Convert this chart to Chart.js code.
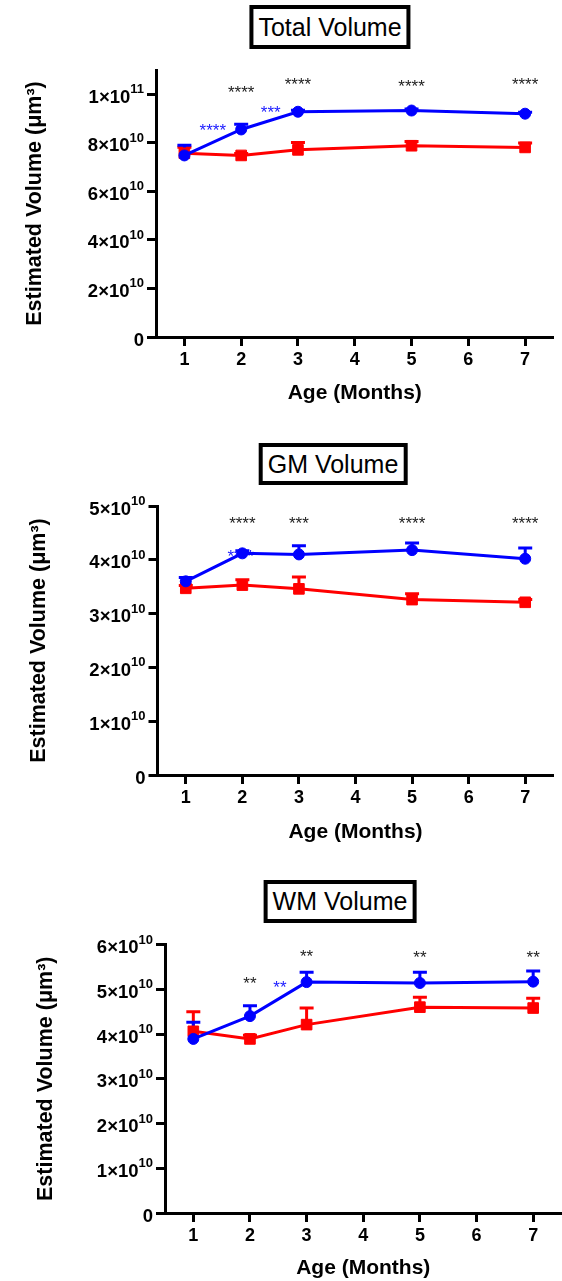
<!DOCTYPE html>
<html><head><meta charset="utf-8">
<script src="https://cdn.jsdelivr.net/npm/chart.js@4.4.1/dist/chart.umd.min.js"></script>
<style>
html,body{margin:0;padding:0;background:#fff;overflow:hidden;width:562px;height:1281px;position:relative;}
canvas{position:absolute;left:0;}
.ttl{position:absolute;border:4px solid #000;font-family:"Liberation Sans",Arial,sans-serif;font-size:25px;padding:0 5px;white-space:nowrap;transform:translateX(-50%);box-sizing:border-box;background:#fff;color:#000;text-align:center;}
</style></head><body>
<div class="ttl" style="left:330px;top:5px;height:44px;line-height:36px;">Total Volume</div>
<div class="ttl" style="left:333px;top:443px;height:42px;line-height:34px;">GM Volume</div>
<div class="ttl" style="left:340px;top:880px;height:43px;line-height:35px;">WM Volume</div>
<canvas id="c1" width="562" height="420" style="top:0px"></canvas>
<canvas id="c2" width="562" height="430" style="top:430px"></canvas>
<canvas id="c3" width="570" height="421" style="top:860px"></canvas>
<script>
// ---- data ----
const ages = [1, 2, 3, 5, 7];
const xTicks = [1, 2, 3, 4, 5, 6, 7];
const starAges = [2, 3, 5, 7];

// Total volume
const totalBlue    = [7.48e10, 8.55e10, 9.28e10, 9.33e10, 9.20e10];
const totalBlueErr = [0.42e10, 0.22e10, 0.06e10, 0.06e10, 0.06e10];
const totalRed     = [7.57e10, 7.48e10, 7.71e10, 7.88e10, 7.81e10];
const totalRedErr  = [0.25e10, 0.08e10, 0.30e10, 0.17e10, 0.18e10];
const totalYTicks  = [0, 2e10, 4e10, 6e10, 8e10, 1e11];
const totalYLabels = ["0", "2×10^10", "4×10^10", "6×10^10", "8×10^10", "1×10^11"];
const totalStarY   = [1.02e11, 1.054e11, 1.045e11, 1.054e11];
const totalStarTxt = ["****", "****", "****", "****"];
const totalInX     = [1.5, 2.52];
const totalInY     = [8.65e10, 9.38e10];
const totalInTxt   = ["****", "***"];

// GM volume
const gmBlue    = [3.60e10, 4.12e10, 4.10e10, 4.18e10, 4.02e10];
const gmBlueErr = [0.07e10, 0.05e10, 0.16e10, 0.13e10, 0.20e10];
const gmRed     = [3.47e10, 3.53e10, 3.46e10, 3.26e10, 3.21e10];
const gmRedErr  = [0.05e10, 0.10e10, 0.22e10, 0.11e10, 0.05e10];
const gmYTicks  = [0, 1e10, 2e10, 3e10, 4e10, 5e10];
const gmYLabels = ["0", "1×10^10", "2×10^10", "3×10^10", "4×10^10", "5×10^10"];
const gmStarY   = [4.73e10, 4.73e10, 4.73e10, 4.73e10];
const gmStarTxt = ["****", "***", "****", "****"];
const gmInX     = [1.97];
const gmInY     = [4.12e10];
const gmInTxt   = ["****"];

// WM volume
const wmBlue    = [3.89e10, 4.40e10, 5.16e10, 5.14e10, 5.17e10];
const wmBlueErr = [0.37e10, 0.23e10, 0.22e10, 0.24e10, 0.24e10];
const wmRed     = [4.06e10, 3.89e10, 4.21e10, 4.60e10, 4.58e10];
const wmRedErr  = [0.44e10, 0.08e10, 0.37e10, 0.22e10, 0.22e10];
const wmYTicks  = [0, 1e10, 2e10, 3e10, 4e10, 5e10, 6e10];
const wmYLabels = ["0", "1×10^10", "2×10^10", "3×10^10", "4×10^10", "5×10^10", "6×10^10"];
const wmStarY   = [5.21e10, 5.80e10, 5.79e10, 5.79e10];
const wmStarTxt = ["**", "**", "**", "**"];
const wmInX     = [2.53];
const wmInY     = [5.10e10];
const wmInTxt   = ["**"];

// ---- drawing ----
const FONT = '"Liberation Sans", Arial, Helvetica, sans-serif';
const BLUE = '#0000ff', RED = '#ff0000';

const errorBars = {
  id: 'errorBars',
  beforeDatasetsDraw(chart) {
    const { ctx, scales: { x, y } } = chart;
    const dss = chart.data.datasets;
    for (let i = dss.length - 1; i >= 0; i--) {
      const ds = dss[i];
      if (!ds.errUp) continue;
      ctx.save();
      ctx.strokeStyle = ds.borderColor;
      ctx.lineWidth = 3;
      ds.data.forEach((p, j) => {
        const px = x.getPixelForValue(p.x);
        const py = y.getPixelForValue(p.y);
        const pt = y.getPixelForValue(p.y + ds.errUp[j]);
        ctx.beginPath();
        ctx.moveTo(px, py); ctx.lineTo(px, pt);
        ctx.moveTo(px - 7, pt); ctx.lineTo(px + 7, pt);
        ctx.stroke();
      });
      ctx.restore();
    }
  }
};

function starPlugin(groups) {
  return {
    id: 'stars',
    beforeDatasetsDraw(chart) {
      const { ctx, scales: { x, y } } = chart;
      ctx.save();
      ctx.font = '17px ' + FONT;
      ctx.textAlign = 'center';
      ctx.textBaseline = 'middle';
      groups.forEach(g => {
        ctx.fillStyle = g.color;
        g.x.forEach((xv, i) => {
          ctx.fillText(g.text[i], x.getPixelForValue(xv), y.getPixelForValue(g.y[i]) + 4);
        });
      });
      ctx.restore();
    }
  };
}

function yLabelPlugin(vals, labels) {
  return {
    id: 'yLabels',
    afterDraw(chart) {
      const { ctx, scales: { y } } = chart;
      const right = y.right - 12;
      ctx.save();
      ctx.fillStyle = '#000';
      ctx.textAlign = 'right';
      ctx.textBaseline = 'alphabetic';
      vals.forEach((v, i) => {
        const py = y.getPixelForValue(v);
        const parts = labels[i].split('^');
        let r = right;
        if (parts.length > 1) {
          ctx.font = 'bold 13px ' + FONT;
          ctx.fillText(parts[1], r, py - 1);
          r -= ctx.measureText(parts[1]).width;
        }
        ctx.font = 'bold 18.5px ' + FONT;
        ctx.fillText(parts[0], r, py + 8.5);
      });
      ctx.restore();
    }
  };
}

function makePanel(p) {
  const grid = { display: true, drawOnChartArea: false, drawTicks: true, tickLength: 9, tickWidth: 3, tickColor: '#000', color: '#000' };
  const border = { display: true, width: 3, color: '#000' };
  new Chart(document.getElementById(p.id), {
    type: 'line',
    data: {
      datasets: [
        { label: 'Blue', data: ages.map((a, i) => ({ x: a, y: p.blue[i] })), errUp: p.blueErr,
          borderColor: BLUE, backgroundColor: BLUE, pointBackgroundColor: BLUE, pointBorderColor: BLUE,
          pointStyle: 'circle', pointRadius: 5.5, pointBorderWidth: 1, borderWidth: 3, tension: 0 },
        { label: 'Red', data: ages.map((a, i) => ({ x: a, y: p.red[i] })), errUp: p.redErr,
          borderColor: RED, backgroundColor: RED, pointBackgroundColor: RED, pointBorderColor: RED,
          pointStyle: 'rect', pointRadius: 7.5, pointBorderWidth: 1, borderWidth: 3, tension: 0 }
      ]
    },
    options: {
      responsive: false, animation: false, devicePixelRatio: 1,
      layout: { padding: { top: p.padTop, right: p.padRight, bottom: 0, left: 0 } },
      plugins: { legend: { display: false }, tooltip: { enabled: false } },
      scales: {
        x: {
          type: 'linear', min: 0.5, max: 7.5,
          afterBuildTicks: s => { s.ticks = xTicks.map(v => ({ value: v })); },
          afterFit: s => { s.height = p.xHeight; },
          grid: grid, border: border,
          ticks: { color: '#000', font: { family: FONT, size: 18, weight: 'bold' }, padding: 3, maxRotation: 0, autoSkip: false, callback: v => String(v) },
          title: { display: true, text: 'Age (Months)', color: '#000', font: { family: FONT, size: 21, weight: 'bold' }, padding: { top: 0, bottom: p.xTitlePad } }
        },
        y: {
          type: 'linear', min: 0, max: p.yMax,
          afterBuildTicks: s => { s.ticks = p.yTicks.map(v => ({ value: v })); },
          afterFit: s => { s.width = p.axisX; },
          grid: grid, border: border,
          ticks: { display: false },
          title: { display: true, text: 'Estimated Volume (μm³)', color: '#000', font: { family: FONT, size: 21.5, weight: 'bold' }, padding: { top: p.yTitlePad, bottom: 0 } }
        }
      }
    },
    plugins: [errorBars, starPlugin(p.stars), yLabelPlugin(p.yTicks, p.yLabels)]
  });
}

makePanel({ id: 'c1', blue: totalBlue, blueErr: totalBlueErr, red: totalRed, redErr: totalRedErr,
  yTicks: totalYTicks, yLabels: totalYLabels, yMax: 1.1e11,
  stars: [{ color: '#222', x: starAges, y: totalStarY, text: totalStarTxt }, { color: '#1a1aff', x: totalInX, y: totalInY, text: totalInTxt }],
  padTop: 70, padRight: 5.5, xHeight: 83, xTitlePad: 14.4, axisX: 156, yTitlePad: 22.6 });
makePanel({ id: 'c2', blue: gmBlue, blueErr: gmBlueErr, red: gmRed, redErr: gmRedErr,
  yTicks: gmYTicks, yLabels: gmYLabels, yMax: 5e10,
  stars: [{ color: '#222', x: starAges, y: gmStarY, text: gmStarTxt }, { color: '#1a1aff', x: gmInX, y: gmInY, text: gmInTxt }],
  padTop: 76, padRight: 5, xHeight: 85, xTitlePad: 15.4, axisX: 157.5, yTitlePad: 26.1 });
makePanel({ id: 'c3', blue: wmBlue, blueErr: wmBlueErr, red: wmRed, redErr: wmRedErr,
  yTicks: wmYTicks, yLabels: wmYLabels, yMax: 6e10,
  stars: [{ color: '#222', x: starAges, y: wmStarY, text: wmStarTxt }, { color: '#1a1aff', x: wmInX, y: wmInY, text: wmInTxt }],
  padTop: 84.5, padRight: 5, xHeight: 68, xTitlePad: 0.4, axisX: 165, yTitlePad: 33.4 });
</script>
</body></html>
